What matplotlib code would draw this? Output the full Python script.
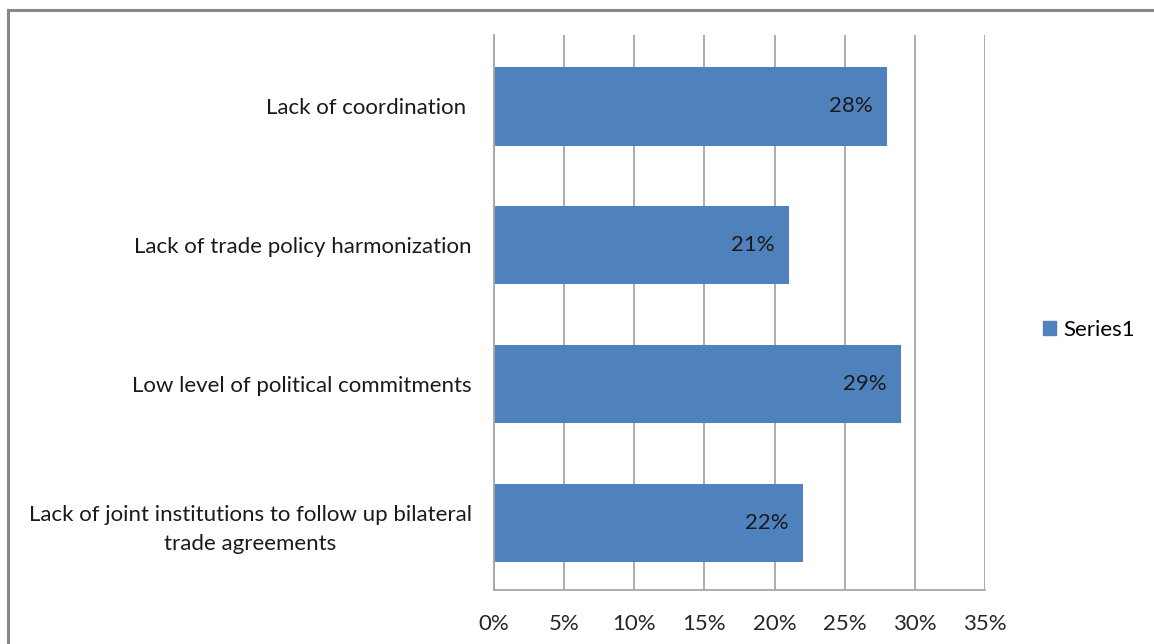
import matplotlib.pyplot as plt
from matplotlib.lines import Line2D
import numpy as np

plt.rcParams['font.family'] = ['Lato', 'DejaVu Sans']

categories = [
    "Lack of coordination ",
    "Lack of trade policy harmonization",
    "Low level of political commitments",
    "Lack of joint institutions to follow up bilateral\ntrade agreements",
]
values = [28, 21, 29, 22]
series_name = "Series1"
xticks = [0, 5, 10, 15, 20, 25, 30, 35]

bar_color = '#4F81BD'
grid_color = '#A6A6A6'
fs = 16

fig = plt.figure(figsize=(11.54, 6.44), dpi=100)
ax = fig.add_axes([494 / 1154, 54 / 644, 491 / 1154, 555 / 644])

y = np.arange(len(categories))
ax.barh(y, values, height=0.565, color=bar_color, zorder=2, label=series_name)
ax.set_ylim(len(categories) - 0.5 - 0.015, -0.5 - 0.015)
ax.set_xlim(0, 35)

# value labels inside the bar ends
for yi, v in zip(y, values):
    ax.annotate(f"{v}%", (v, yi), xytext=(-10, 0), textcoords='offset points',
                ha='right', va='center', fontsize=fs, color='#1a1a1a', zorder=3)

ax.set_xticks(xticks)
ax.set_xticklabels([f"{t}%" for t in xticks], fontsize=fs, color='#262626')
ax.set_yticks(y)
ax.set_yticklabels(categories, fontsize=fs, color='#1a1a1a', multialignment='center',
                   linespacing=1.55)
ax.tick_params(axis='x', length=0, pad=17)
ax.tick_params(axis='y', length=0, pad=16)

ax.grid(axis='x', color=grid_color, linewidth=1.3, zorder=1)
for s in ['top', 'right']:
    ax.spines[s].set_visible(False)
for s in ['left', 'bottom']:
    ax.spines[s].set_color(grid_color)
    ax.spines[s].set_linewidth(1.3)

handle = plt.Rectangle((0, 0), 1, 1, color=bar_color)
fig.legend([handle], [series_name], loc='center left', bbox_to_anchor=(1023 / 1154, 1 - 330 / 644),
           frameon=False, fontsize=fs, handlelength=0.6, handleheight=0.6, handletextpad=0.3)

# outer chart border (top and left only)
fig.add_artist(Line2D([8 / 1154, 1], [1 - 10 / 644, 1 - 10 / 644], color='#888888', linewidth=2.2))
fig.add_artist(Line2D([8 / 1154, 8 / 1154], [0, 1 - 10 / 644], color='#888888', linewidth=2.2))

fig.savefig('out.png', dpi=100)
